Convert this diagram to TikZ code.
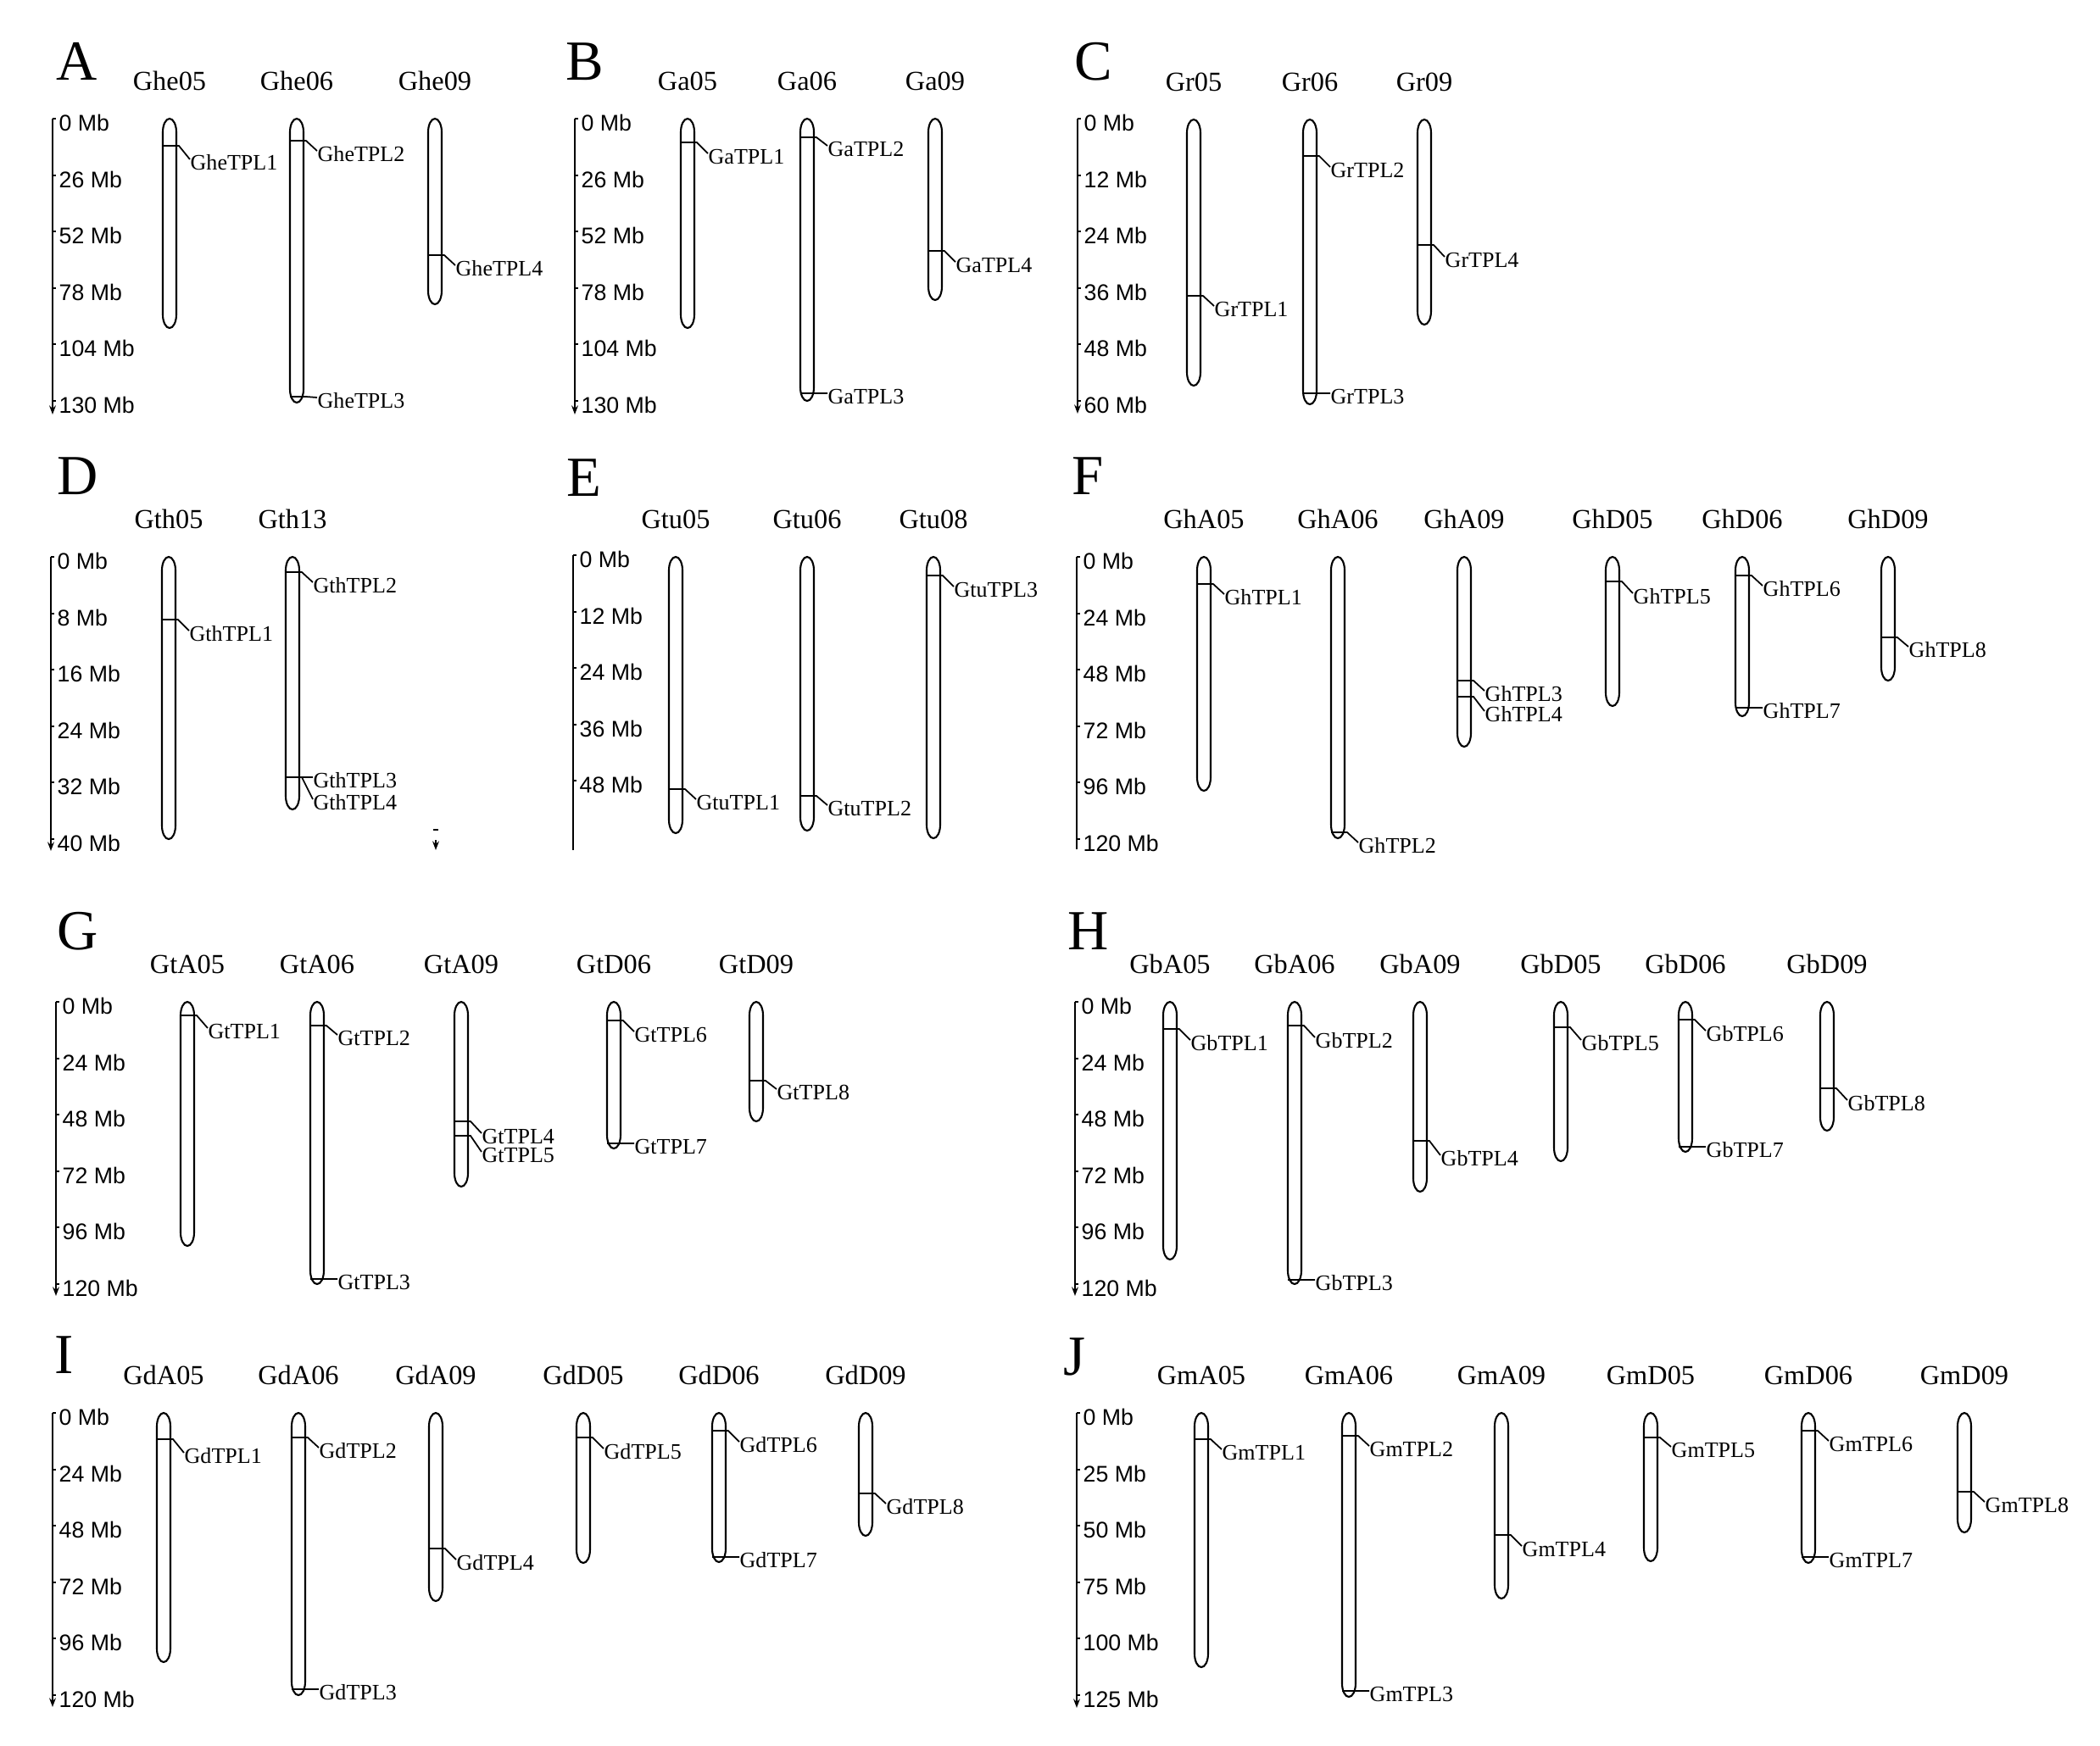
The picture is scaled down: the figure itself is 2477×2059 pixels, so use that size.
\documentclass[tikz,border=0pt]{standalone}
\usepackage{fontspec}
\setmainfont{Liberation Serif}
\newfontfamily\axisfont{Liberation Sans}
\usetikzlibrary{arrows.meta}

\begin{document}
\begin{tikzpicture}[x=0.01cm, y=-0.01cm,
	chrom/.style={draw=black, line width=0.6pt},
	axis/.style={draw=black, line width=0.6pt},
	tip/.style={-{Stealth[length=3pt,width=2.2pt]}},
	gmark/.style={line width=0.75pt},
	leader/.style={line width=0.5pt},
	panel/.style={font=\fontsize{19}{19}\selectfont, anchor=base, inner sep=0pt},
	chrname/.style={font=\fontsize{9.2}{10}\selectfont, anchor=base, inner sep=0pt},
	gene/.style={font=\fontsize{7.4}{8}\selectfont, anchor=west, inner sep=0pt},
	mb/.style={font=\axisfont\fontsize{7.6}{8}\selectfont, anchor=west, inner sep=0pt}]
	\useasboundingbox (0,0) rectangle (2477,2059);

	% panel letters
	\foreach \p/\x/\y in {A/91/94, B/690/94, C/1290/94, D/92/583, E/689/585, F/1283/583, G/92/1120, H/1284/1120, I/76/1620, J/1267/1622}
		\node[panel] (panel\p) at (\x,\y) {\p};

	% scale bars
	\draw[axis,tip] (62,140) -- (62,489);
	\draw[axis,tip] (678,140) -- (678,489);
	\draw[axis,tip] (1271,140) -- (1271,488);
	\draw[axis,tip] (60,657) -- (60,1004);
	\draw[axis] (676,655) -- (676,1003);
	\draw[axis] (1270,657) -- (1270,1002);
	\draw[axis,tip] (66,1182) -- (66,1529);
	\draw[axis,tip] (1268,1182) -- (1268,1529);
	\draw[axis,tip] (62,1667) -- (62,2014);
	\draw[axis,tip] (1270,1667) -- (1270,2015);
	\foreach \p/\x/\t/\vals in {A/62/140/{0,26,52,78,104,130}, B/678/140/{0,26,52,78,104,130},
			C/1271/140/{0,12,24,36,48,60}, D/60/657/{0,8,16,24,32,40}, E/676/655/{0,12,24,36,48},
			F/1270/657/{0,24,48,72,96,120}, G/66/1182/{0,24,48,72,96,120}, H/1268/1182/{0,24,48,72,96,120},
			I/62/1667/{0,24,48,72,96,120}, J/1270/1667/{0,25,50,75,100,125}}
		\foreach \v [count=\i from 0] in \vals {
			\draw[axis] (\x,\t+66.6*\i) -- ++(4,0);
			\node[mb] (\p\i) at (\x+7,\t+66.6*\i+5) {\v\ Mb};
		}
	% stray mark in D
	\draw[axis] (511,979) -- (517,979);
	\draw[axis,tip] (514,991) -- (514,1003);

	% chromosomes
	\foreach \n/\c/\t/\b in {Ghe05/200/140/387, Ghe06/350/140/475, Ghe09/513/140/359,
			Ga05/811/140/387, Ga06/952/140/473, Ga09/1103/140/354,
			Gr05/1408/141/455, Gr06/1545/141/477, Gr09/1680/141/383,
			Gth05/199/657/990, Gth13/345/657/955,
			Gtu05/797/657/983, Gtu06/952/657/980, Gtu08/1101/657/989,
			GhA05/1420/657/933, GhA06/1578/657/989, GhA09/1727/657/881, GhD05/1902/657/833, GhD06/2055/657/845, GhD09/2227/657/803,
			GtA05/221/1182/1470, GtA06/374/1182/1515, GtA09/544/1182/1400, GtD06/724/1182/1355, GtD09/892/1182/1323,
			GbA05/1380/1182/1486, GbA06/1527/1182/1515, GbA09/1675/1182/1406, GbD05/1841/1182/1370, GbD06/1988/1182/1359, GbD09/2155/1182/1334,
			GdA05/193/1667/1961, GdA06/352/1667/2000, GdA09/514/1667/1889, GdD05/688/1667/1844, GdD06/848/1667/1843, GdD09/1021/1667/1812,
			GmA05/1417/1667/1967, GmA06/1591/1667/2002, GmA09/1771/1667/1886, GmD05/1947/1667/1842, GmD06/2133/1667/1844, GmD09/2317/1667/1808}
	{
		\draw[chrom] (\c-8,\t+16) -- (\c-8,\b-16) .. controls (\c-8,\b-7) and (\c-4.4,\b) .. (\c,\b) coordinate (\n-bot)
			.. controls (\c+4.4,\b) and (\c+8,\b-7) .. (\c+8,\b-16) -- (\c+8,\t+16)
			.. controls (\c+8,\t+7) and (\c+4.4,\t) .. (\c,\t) coordinate (\n-top)
			.. controls (\c-4.4,\t) and (\c-8,\t+7) .. (\c-8,\t+16) -- cycle;
		\node[chrname] (\n) at (\c,\t-34) {\n};
	}

	% genes
	\foreach \g/\c/\y/\l in {GheTPL1/200/172/192, GheTPL2/350/166/182, GheTPL3/350/468/473, GheTPL4/513/301/317,
			GaTPL1/811/168/185, GaTPL2/952/162/176, GaTPL3/952/464/468, GaTPL4/1103/296/313,
			GrTPL1/1408/349/365, GrTPL2/1545/184/201, GrTPL3/1545/464/468, GrTPL4/1680/289/307,
			GthTPL1/199/731/748, GthTPL2/345/675/691, GthTPL3/345/917/921, GthTPL4/345/917/947,
			GtuTPL1/797/931/947, GtuTPL2/952/939/954, GtuTPL3/1101/679/696,
			GhTPL1/1420/689/705, GhTPL2/1578/982/998, GhTPL3/1727/803/819, GhTPL4/1727/822/843,
			GhTPL5/1902/686/704, GhTPL6/2055/679/695, GhTPL7/2055/835/839, GhTPL8/2227/752/767,
			GtTPL1/221/1198/1217, GtTPL2/374/1210/1225, GtTPL3/374/1509/1513, GtTPL4/544/1323/1341,
			GtTPL5/544/1340/1363, GtTPL6/724/1204/1221, GtTPL7/724/1349/1353, GtTPL8/892/1275/1289,
			GbTPL1/1380/1214/1231, GbTPL2/1527/1210/1228, GbTPL3/1527/1510/1514, GbTPL4/1675/1346/1367,
			GbTPL5/1841/1212/1231, GbTPL6/1988/1203/1220, GbTPL7/1988/1353/1357, GbTPL8/2155/1284/1302,
			GdTPL1/193/1698/1718, GdTPL2/352/1696/1712, GdTPL3/352/1993/1997, GdTPL4/514/1827/1844,
			GdTPL5/688/1696/1713, GdTPL6/848/1688/1705, GdTPL7/848/1837/1841, GdTPL8/1021/1762/1778,
			GmTPL1/1417/1698/1714, GmTPL2/1591/1694/1710, GmTPL3/1591/1995/1999, GmTPL4/1771/1811/1828,
			GmTPL5/1947/1696/1711, GmTPL6/2133/1688/1704, GmTPL7/2133/1837/1841, GmTPL8/2317/1760/1776}
	{
		\draw[gmark] (\c-8,\y) -- (\c+8,\y) coordinate (\g-m);
		\node[gene] (\g) at (\c+24,\l) {\g};
		\draw[leader] (\g-m) -- ++(3,0) -- ([yshift=0.04cm]\g.west);
	}
\end{tikzpicture}
\end{document}
